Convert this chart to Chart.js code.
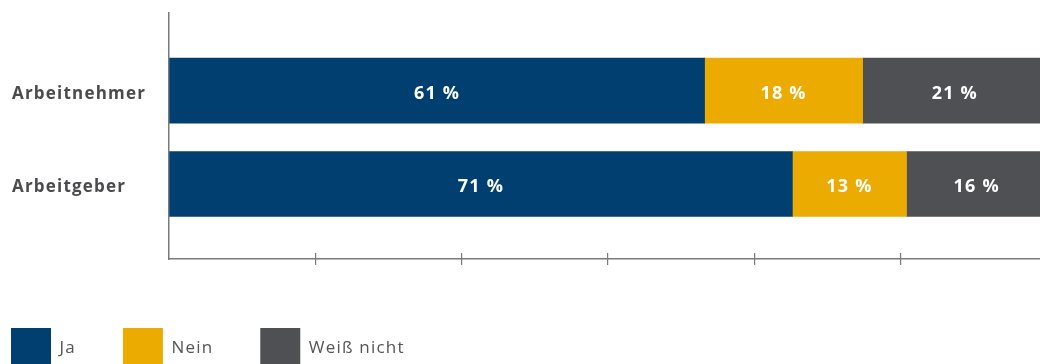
<!DOCTYPE html>
<html>
<head>
<meta charset="utf-8">
<script src="https://cdn.jsdelivr.net/npm/chart.js@4/dist/chart.umd.min.js"></script>
<style>
  html, body { margin: 0; padding: 0; background: #fff; overflow: hidden; }
  #wrap { position: relative; width: 1040px; height: 364px; overflow: hidden; }
  #chart { position: absolute; left: 0; top: 0; }
</style>
</head>
<body>
<div id="wrap"><canvas id="chart" width="1060" height="380"></canvas></div>
<script>
// Data
const categories = ['Arbeitnehmer', 'Arbeitgeber'];
const seriesNames = ['Ja', 'Nein', 'Weiß nicht'];
const jaValues = [61, 71];
const neinValues = [18, 13];
const weissNichtValues = [21, 16];
const seriesColors = ['#003f70', '#ecab00', '#4f5054'];

// x axis runs 0..100 with a tick every sixth
const xMax = 100;
const xStep = 100 / 6;

const TEXT_GREY = '#4b4b4d';
const AXIS_GREY = '#7a7a7a';

Chart.defaults.font.family = "'Open Sans', sans-serif";

function toPoints(values) {
    return values.map((v, i) => ({ x: v, y: i }));
}

// slightly wider tracking like the original artwork
const tracking = {
    id: 'tracking',
    beforeLayout(chart) { chart.ctx.letterSpacing = '1.2px'; },
    beforeDraw(chart) { chart.ctx.letterSpacing = '1.2px'; }
};

// move the legend to the left edge
const legendShift = {
    id: 'legendShift',
    afterLayout(chart) { chart.legend.left -= 48; }
};

// white percent labels inside the segments
const barLabels = {
    id: 'barLabels',
    afterDatasetsDraw(chart) {
        const ctx = chart.ctx;
        ctx.save();
        ctx.font = "700 18px 'Open Sans', sans-serif";
        ctx.fillStyle = '#ffffff';
        ctx.textAlign = 'center';
        ctx.textBaseline = 'middle';
        chart.data.datasets.forEach((ds, i) => {
            chart.getDatasetMeta(i).data.forEach((bar, j) => {
                const p = bar.getCenterPoint();
                ctx.fillText(ds.data[j].x + ' %', p.x, p.y + 3);
            });
        });
        ctx.restore();
    }
};

const hideZeroTick = ctx => (ctx.tick && ctx.tick.value === 0) ? 'rgba(0,0,0,0)' : AXIS_GREY;

const datasets = [jaValues, neinValues, weissNichtValues].map((vals, i) => ({
    label: seriesNames[i],
    data: toPoints(vals),
    backgroundColor: seriesColors[i],
    borderWidth: 0,
    barThickness: 65,
    xAxisID: 'x',
    yAxisID: 'y'
}));

new Chart(document.getElementById('chart'), {
    type: 'bar',
    data: { labels: categories, datasets: datasets },
    plugins: [tracking, legendShift, barLabels],
    options: {
        indexAxis: 'y',
        responsive: false,
        animation: false,
        layout: { padding: { left: 12, right: 13, top: 11, bottom: 2 } },
        plugins: {
            tooltip: { enabled: false },
            legend: {
                position: 'bottom',
                align: 'start',
                labels: {
                    boxWidth: 40,
                    boxHeight: 40,
                    padding: 47,
                    color: '#555557',
                    font: { size: 17, weight: '400' }
                }
            }
        },
        scales: {
            x: {
                type: 'linear',
                stacked: true,
                min: 0,
                max: xMax,
                weight: 0,
                ticks: { display: false, stepSize: xStep },
                grid: { drawOnChartArea: false, tickLength: -6, tickColor: hideZeroTick, lineWidth: 1.2 },
                border: { display: true, color: AXIS_GREY, width: 1.5 },
                afterFit(scale) { scale.height = 0; }
            },
            x2: {
                type: 'linear',
                position: 'bottom',
                min: 0,
                max: xMax,
                weight: 1,
                ticks: { display: false, stepSize: xStep },
                grid: { drawOnChartArea: false, tickLength: 6, tickColor: hideZeroTick, lineWidth: 1.2 },
                border: { display: false },
                afterFit(scale) { scale.height = 22; }
            },
            y: {
                type: 'linear',
                stacked: true,
                offset: false,
                reverse: true,
                min: -0.83,
                max: 1.803,
                grid: { display: false, offset: false },
                border: { display: true, color: AXIS_GREY, width: 1.5 },
                ticks: {
                    stepSize: 1,
                    includeBounds: false,
                    crossAlign: 'far',
                    labelOffset: 3,
                    color: TEXT_GREY,
                    font: { size: 17, weight: '700' },
                    callback: v => categories[v] ?? ''
                },
                afterFit(scale) { scale.width = 157; }
            }
        }
    }
});
</script>
</body>
</html>
